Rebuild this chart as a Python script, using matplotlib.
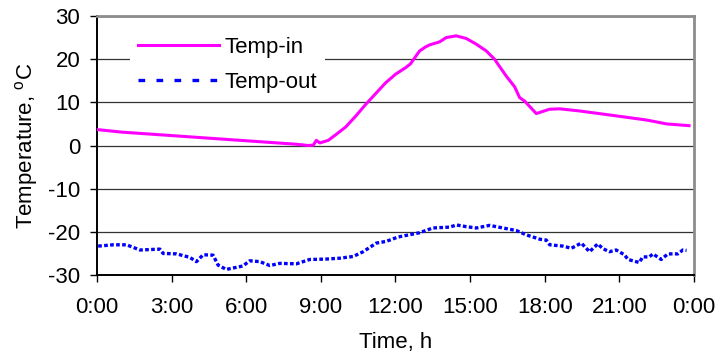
import matplotlib.pyplot as plt
from matplotlib.lines import Line2D

plt.rcParams['font.family'] = ['Liberation Sans', 'DejaVu Sans']
plt.rcParams['mathtext.fontset'] = 'custom'
plt.rcParams['mathtext.rm'] = 'Liberation Sans'
plt.rcParams['axes.unicode_minus'] = False

# hours since midnight and temperatures
hours_in = [0, 1, 2, 3, 4, 5, 6, 7, 8, 8.5, 8.7, 8.82, 8.96, 9.3, 9.6, 10.0, 10.4,
            10.8, 11.2, 11.6, 12.0, 12.4, 12.6, 12.97, 13.2, 13.37, 13.77, 14.04,
            14.44, 14.84, 15.24, 15.65, 15.98, 16.45, 16.79, 16.99, 17.19, 17.66,
            18.19, 18.6, 19.4, 20.7, 22.1, 22.9, 23.8]
temp_in = [3.7, 3.1, 2.7, 2.3, 1.9, 1.5, 1.1, 0.7, 0.3, 0.0, 0.1, 1.2, 0.6, 1.2, 2.5,
           4.3, 6.8, 9.5, 12.0, 14.5, 16.5, 18.0, 18.9, 21.9, 22.8, 23.3, 24.0, 25.0,
           25.4, 24.8, 23.5, 21.9, 20.0, 16.1, 13.6, 11.1, 10.3, 7.4, 8.4, 8.5, 8.0,
           7.0, 5.9, 5.0, 4.6]

hours_out = [0.05, 0.65, 1.19, 1.73, 2.53, 2.66, 3.2, 3.73, 4.0, 4.27, 4.67, 4.87,
             5.2, 5.87, 6.14, 6.55, 6.95, 7.35, 8.02, 8.55, 9.22, 9.76, 10.3, 10.7,
             11.23, 11.63, 12.1, 12.97, 13.5, 14.18, 14.45, 14.85, 15.25, 15.78,
             16.32, 16.86, 17.26, 17.8, 18.06, 18.2, 18.73, 19.07, 19.47, 19.8,
             20.13, 20.34, 20.6, 20.87, 21.2, 21.35, 21.8, 21.94, 22.2, 22.35,
             22.68, 22.95, 23.35, 23.55, 23.7]
temp_out = [-23.3, -23.0, -23.0, -24.2, -24.0, -25.0, -25.1, -25.9, -26.9, -25.3,
            -25.4, -27.7, -28.7, -27.9, -26.7, -26.9, -27.8, -27.3, -27.4, -26.4,
            -26.3, -26.1, -25.7, -24.6, -22.6, -22.2, -21.2, -20.2, -19.1, -18.9,
            -18.4, -18.8, -19.1, -18.5, -19.1, -19.7, -20.7, -21.7, -21.9, -23.0,
            -23.3, -23.8, -22.6, -24.6, -22.8, -23.9, -24.6, -24.2, -25.3, -26.4,
            -27.1, -25.8, -25.8, -25.1, -26.4, -25.1, -25.1, -24.2, -24.3]

tick_hours = [0, 3, 6, 9, 12, 15, 18, 21, 24]
tick_labels = ['0:00', '3:00', '6:00', '9:00', '12:00', '15:00', '18:00', '21:00', '0:00']

fs = 16

fig = plt.figure(figsize=(7.18, 3.6), dpi=100)
ax = fig.add_axes([0.135, 0.236, 0.8316, 0.7196])

ax.plot(hours_in, temp_in, color='#FF00FF', lw=2.2, zorder=3)
ax.plot(hours_out, temp_out, color='#0000FF', lw=2.4, dashes=(1.1, 0.7), zorder=3)

ax.set_xlim(0, 24)
ax.set_ylim(-30, 30)
ax.set_xticks(tick_hours)
ax.set_xticklabels(tick_labels)
ax.set_yticks(range(-30, 31, 10))
ax.yaxis.grid(True, color='#333333', lw=0.9)
ax.set_axisbelow(True)
ax.tick_params(labelsize=fs, length=5, width=1, direction='out', colors='black')
ax.tick_params(axis='y', pad=7)
ax.tick_params(axis='x', pad=11)

for s in ['left', 'bottom']:
    ax.spines[s].set_color('black')
    ax.spines[s].set_linewidth(1.4)
for s in ['top', 'right']:
    ax.spines[s].set_color('#8c8c8c')
    ax.spines[s].set_linewidth(2.0)

ax.set_xlabel('Time, h', fontsize=fs, labelpad=10)
ax.set_ylabel('Temperature, $^{\\mathrm{o}}$C', fontsize=fs, labelpad=6)

handles = [Line2D([], [], color='#FF00FF', lw=2.2),
           Line2D([], [], color='#0000FF', lw=2.4, dashes=(2, 3.4))]
leg = ax.legend(handles, ['Temp-in', 'Temp-out'], loc='upper left',
                bbox_to_anchor=(0.055, 0.948), borderaxespad=0, fontsize=fs,
                frameon=True, fancybox=False, edgecolor='none', facecolor='white',
                framealpha=1, handlelength=3.65, handletextpad=0.25,
                labelspacing=0.63, borderpad=0.35)

fig.savefig('out.png', dpi=100)
